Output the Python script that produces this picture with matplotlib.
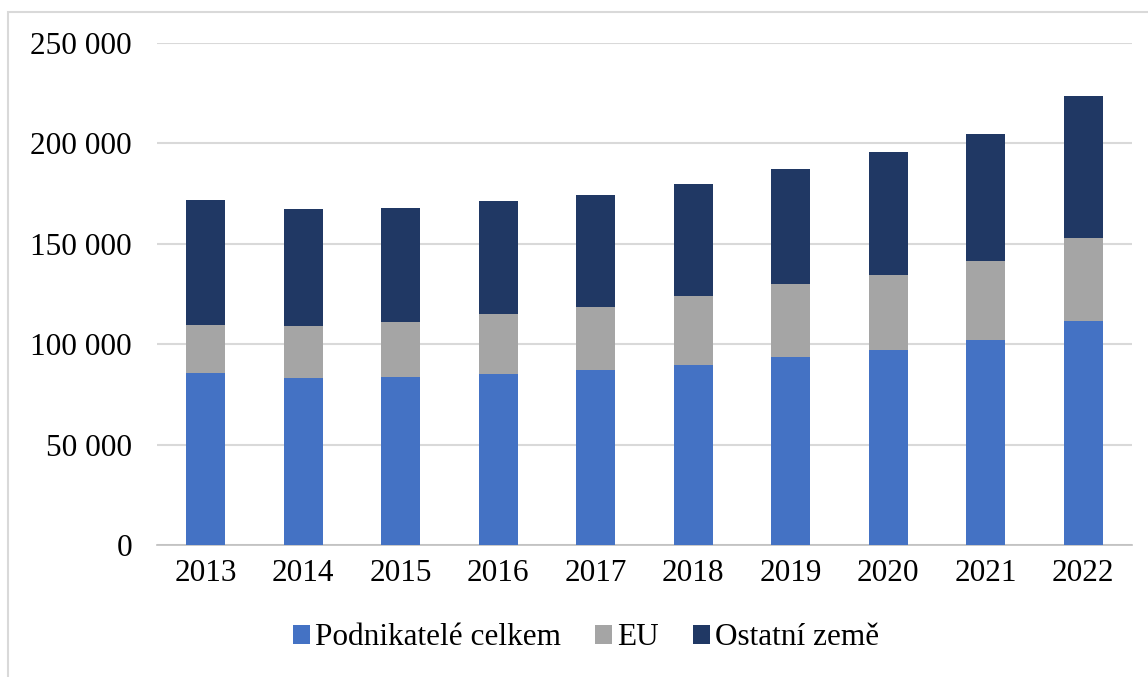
import numpy as np
import matplotlib.pyplot as plt
from matplotlib.patches import Rectangle
from matplotlib.ticker import FuncFormatter

# Data
years = ['2013', '2014', '2015', '2016', '2017', '2018', '2019', '2020', '2021', '2022']
podnikatele = [85500, 83400, 83700, 85200, 87000, 89800, 93600, 97300, 102100, 111400]
eu = [24100, 25900, 27400, 29900, 31700, 34100, 36400, 37200, 39100, 41500]
ostatni = [62300, 57800, 56700, 56200, 55700, 55700, 57500, 61000, 63600, 70600]

plt.rcParams['font.family'] = ['Liberation Serif', 'DejaVu Serif']

fig = plt.figure(figsize=(11.48, 6.77), dpi=100)
ax = fig.add_axes([157 / 1148, 1 - 545 / 677, 975 / 1148, 502 / 677])

x = np.arange(len(years))
w = 0.4
ax.bar(x, podnikatele, w, color='#4472C4', label='Podnikatelé celkem', zorder=3)
ax.bar(x, eu, w, bottom=podnikatele, color='#A5A5A5', label='EU', zorder=3)
bottom2 = np.array(podnikatele) + np.array(eu)
ax.bar(x, ostatni, w, bottom=bottom2, color='#203864', label='Ostatní země', zorder=3)

ax.set_xlim(-0.5, len(years) - 0.5)
ax.set_ylim(0, 250000)
ax.set_yticks(range(0, 250001, 50000))
ax.yaxis.set_major_formatter(FuncFormatter(lambda v, p: f'{int(v):,}'.replace(',', ' ')))
ax.set_xticks(x)
ax.set_xticklabels(years)
ax.tick_params(axis='both', length=0, labelsize=22.5)
ax.tick_params(axis='y', pad=18)
ax.tick_params(axis='x', pad=10)
ax.grid(axis='y', color='#d9d9d9', linewidth=1.5, zorder=0)
for s in ['top', 'right', 'left']:
    ax.spines[s].set_visible(False)
ax.spines['bottom'].set_color('#bfbfbf')
ax.spines['bottom'].set_linewidth(1.2)

leg = ax.legend(loc='upper center', bbox_to_anchor=(0.44, -0.1), ncol=3, frameon=False,
                fontsize=22.5, handlelength=0.55, handleheight=0.55, handletextpad=0.15,
                columnspacing=1.1)

# outer chart border
fig.patches.append(Rectangle((8 / 1148, -0.01), 1.1, 1 - 12 / 677 + 0.01, transform=fig.transFigure,
                             fill=False, edgecolor='#d9d9d9', linewidth=1.5))

fig.savefig('out.png', dpi=100)
